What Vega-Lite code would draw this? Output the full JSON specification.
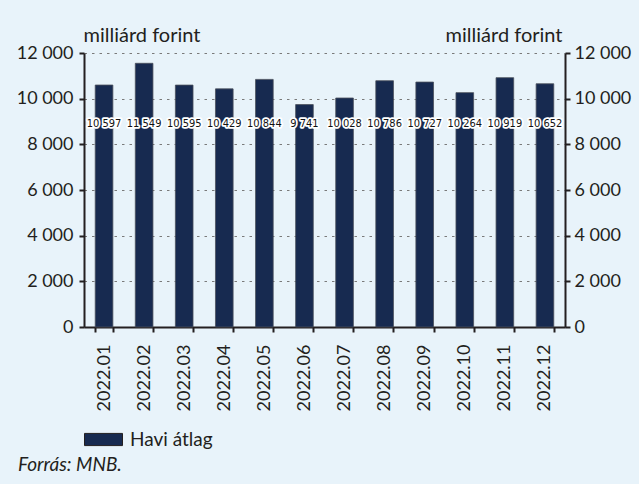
{
  "$schema": "https://vega.github.io/schema/vega-lite/v6.json",
  "width": 481,
  "height": 274,
  "autosize": {"type": "none"},
  "padding": {"left": 84, "top": 53, "right": 74, "bottom": 157},
  "background": "#e8f3fa",
  "config": {
    "view": {"stroke": null},
    "font": "Lato",
    "locale": {"number": {"decimal": ",", "thousands": " ", "grouping": [3], "currency": ["", " Ft"]}},
    "axis": {
      "domainColor": "#231f20",
      "domainWidth": 2,
      "tickColor": "#231f20",
      "tickWidth": 2,
      "tickSize": 5,
      "labelColor": "#231f20",
      "labelFont": "Lato",
      "labelFontSize": 18,
      "titleFont": "Lato",
      "titleFontSize": 20,
      "titleFontWeight": "normal",
      "titleColor": "#231f20"
    }
  },
  "title": {
    "text": "Forrás: MNB.",
    "orient": "bottom",
    "anchor": "start",
    "frame": "group",
    "dx": -66,
    "dy": 6,
    "offset": 0,
    "font": "Lato",
    "fontSize": 19,
    "fontStyle": "italic",
    "fontWeight": "normal",
    "color": "#231f20"
  },
  "data": {
    "values": [
      {"month": "2022.01", "value": 10597, "series": "Havi átlag"},
      {"month": "2022.02", "value": 11549, "series": "Havi átlag"},
      {"month": "2022.03", "value": 10595, "series": "Havi átlag"},
      {"month": "2022.04", "value": 10429, "series": "Havi átlag"},
      {"month": "2022.05", "value": 10844, "series": "Havi átlag"},
      {"month": "2022.06", "value": 9741, "series": "Havi átlag"},
      {"month": "2022.07", "value": 10028, "series": "Havi átlag"},
      {"month": "2022.08", "value": 10786, "series": "Havi átlag"},
      {"month": "2022.09", "value": 10727, "series": "Havi átlag"},
      {"month": "2022.10", "value": 10264, "series": "Havi átlag"},
      {"month": "2022.11", "value": 10919, "series": "Havi átlag"},
      {"month": "2022.12", "value": 10652, "series": "Havi átlag"}
    ]
  },
  "encoding": {
    "x": {
      "field": "month",
      "type": "ordinal",
      "scale": {"paddingInner": 0.56, "paddingOuter": 0.28},
      "axis": {
        "title": null,
        "labelAngle": -90,
        "labelAlign": "right",
        "labelBaseline": "middle",
        "labelPadding": 12,
        "tickBand": "extent",
        "grid": false
      }
    }
  },
  "layer": [
    {
      "mark": {"type": "bar", "stroke": "#4a4f5a", "strokeWidth": 0.8},
      "encoding": {
        "y": {
          "field": "value",
          "type": "quantitative",
          "scale": {"domain": [0, 12000], "nice": false},
          "axis": {
            "orient": "left",
            "values": [0, 2000, 4000, 6000, 8000, 10000, 12000],
            "labelExpr": "replace(format(datum.value, ','), ',', ' ')",
            "labelPadding": 6,
            "grid": true,
            "gridColor": "#7a7a7a",
            "gridDash": [2.5, 5],
            "gridWidth": 1,
            "title": "milliárd forint",
            "titleAngle": 0,
            "titleAlign": "left",
            "titleBaseline": "alphabetic",
            "titleX": -1,
            "titleY": -12
          }
        },
        "color": {
          "field": "series",
          "type": "nominal",
          "scale": {"range": ["#172a50"]},
          "legend": {
            "title": null,
            "orient": "none",
            "legendX": 0,
            "legendY": 367,
            "padding": 0,
            "symbolType": "M-1,-0.32H1V0.32H-1Z",
            "symbolSize": 1444,
            "symbolStrokeColor": "#231f20",
            "symbolStrokeWidth": 1,
            "symbolFillColor": "#172a50",
            "labelFont": "Lato",
            "labelFontSize": 19,
            "labelColor": "#231f20",
            "labelOffset": 7
          }
        }
      }
    },
    {
      "mark": {
        "type": "text",
        "font": "DejaVu Sans Condensed",
        "fontSize": 11,
        "stroke": "white",
        "strokeWidth": 3.5,
        "strokeJoin": "round",
        "fill": "white",
        "baseline": "middle"
      },
      "encoding": {
        "y": {
          "datum": 8870,
          "type": "quantitative",
          "axis": {
            "orient": "right",
            "values": [0, 2000, 4000, 6000, 8000, 10000, 12000],
            "labelExpr": "replace(format(datum.value, ','), ',', ' ')",
            "labelPadding": 4,
            "grid": false,
            "title": "milliárd forint",
            "titleAngle": 0,
            "titleAlign": "right",
            "titleBaseline": "alphabetic",
            "titleX": -3,
            "titleY": -12
          }
        },
        "text": {"field": "value", "type": "quantitative", "format": ","}
      }
    },
    {
      "mark": {
        "type": "text",
        "font": "DejaVu Sans Condensed",
        "fontSize": 11,
        "fill": "#111111",
        "baseline": "middle"
      },
      "encoding": {
        "y": {"datum": 8870, "type": "quantitative", "axis": null},
        "text": {"field": "value", "type": "quantitative", "format": ","}
      }
    }
  ],
  "resolve": {"axis": {"y": "independent"}}
}
